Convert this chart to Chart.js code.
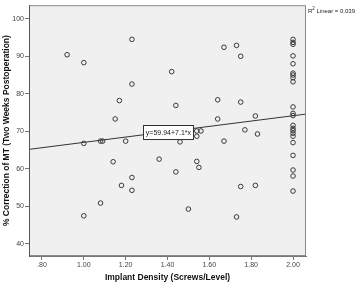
<!DOCTYPE html>
<html>
<head>
<meta charset="utf-8">
<script src="https://cdn.jsdelivr.net/npm/chart.js@4/dist/chart.umd.min.js"></script>
<style>
  html, body { margin: 0; padding: 0; background: #ffffff; }
  #wrap { width: 358px; height: 284px; position: relative; }
</style>
</head>
<body>
<div id="wrap"><canvas id="chart"></canvas></div>
<script>
// implant density (screws/level) for each patient
const density = [
  0.92, 1.00, 1.17, 1.15, 1.23, 1.42, 1.23, 1.44, 1.64, 1.64, 1.54, 1.56, 1.67, 1.73, 1.75,
  2.00, 2.00, 2.00, 2.00, 2.00, 2.00, 2.00, 2.00, 2.00,
  1.75, 1.82, 2.00, 2.00, 2.00, 1.77, 1.83, 1.67,
  2.00, 2.00, 2.00, 2.00, 2.00, 2.00,
  2.00, 2.00, 2.00, 2.00,
  1.75, 1.82, 1.73,
  1.20, 1.46, 1.54, 1.36, 1.54, 1.55, 1.44, 1.23, 1.18, 1.23, 1.50,
  1.00, 1.08, 1.09, 1.14, 1.08, 1.00
];

// % correction of MT two weeks postop, same order
const correction = [
  90.4, 88.3, 78.2, 73.3, 94.5, 85.9, 82.6, 76.9, 78.4, 73.3, 70.1, 70.1, 92.4, 92.9, 90.0,
  94.5, 93.7, 93.2, 90.1, 88.0, 85.5, 85.0, 84.3, 83.2,
  77.8, 74.1, 76.5, 74.8, 74.2, 70.4, 69.3, 67.4,
  71.6, 70.8, 70.2, 69.5, 68.7, 67.0,
  63.6, 59.7, 58.1, 54.1,
  55.3, 55.6, 47.2,
  67.4, 67.2, 68.7, 62.6, 62.0, 60.4, 59.2, 57.7, 55.6, 54.3, 49.3,
  66.8, 67.4, 67.4, 61.9, 50.9, 47.5
];

// fit line end points as read at the plot edges
const fitX = [0.738, 2.062];
const fitY = [65.2, 74.6];

const xTicks = [0.8, 1.0, 1.2, 1.4, 1.6, 1.8, 2.0];
const xTickLabels = ['.80', '1.00', '1.20', '1.40', '1.60', '1.80', '2.00'];
const yTicks = [40, 50, 60, 70, 80, 90, 100];

const equationText = 'y=59.94+7.1*x';
const r2Value = '0.039';

const FONT = "'Liberation Sans', Arial, sans-serif";

const scatterPoints = density.map((d, i) => ({ x: d, y: correction[i] }));
const fitPoints = fitX.map((x, i) => ({ x: x, y: fitY[i] }));

// plot background, frame, equation box and R2 label
const spssDecor = {
  id: 'spssDecor',
  beforeDatasetsDraw(chart) {
    const a = chart.chartArea;
    const ctx = chart.ctx;
    ctx.save();
    ctx.fillStyle = '#f0f0f0';
    ctx.fillRect(a.left, a.top, a.right - a.left, a.bottom - a.top);
    ctx.restore();
  },
  afterDatasetsDraw(chart) {
    const a = chart.chartArea;
    const ctx = chart.ctx;
    const xs = chart.scales.x, ys = chart.scales.y;
    ctx.save();
    // frame
    ctx.strokeStyle = '#8c8c8c';
    ctx.lineWidth = 1;
    ctx.strokeRect(a.left + 0.5, a.top + 0.5, a.right - a.left - 1, a.bottom - a.top - 1);
    ctx.strokeStyle = '#555';
    ctx.beginPath();
    ctx.moveTo(a.left + 0.5, a.top);
    ctx.lineTo(a.left + 0.5, a.bottom);
    ctx.stroke();

    // equation label
    ctx.font = '7px ' + FONT;
    const cx = xs.getPixelForValue(1.402);
    const cy = ys.getPixelForValue(69.9);
    const w = 50, h = 14;
    ctx.fillStyle = '#ffffff';
    ctx.fillRect(Math.round(cx - w / 2) + 0.5, Math.round(cy - h / 2) + 0.5, w, h);
    ctx.strokeStyle = '#333';
    ctx.strokeRect(Math.round(cx - w / 2) + 0.5, Math.round(cy - h / 2) + 0.5, w, h);
    ctx.fillStyle = '#222';
    ctx.textAlign = 'center';
    ctx.textBaseline = 'middle';
    ctx.fillText(equationText, cx + 0.5, cy + 1);

    // R2 label
    let tx = a.right + 2;
    const ty = a.top + 6;
    ctx.textAlign = 'left';
    ctx.font = '6px ' + FONT;
    ctx.fillText('R', tx, ty);
    tx += ctx.measureText('R').width;
    ctx.font = '4.5px ' + FONT;
    ctx.fillText('2', tx, ty - 2);
    tx += ctx.measureText('2').width;
    ctx.font = '6px ' + FONT;
    ctx.fillText(' Linear = ' + r2Value, tx, ty);
    ctx.restore();
  }
};

new Chart(document.getElementById('chart'), {
  type: 'scatter',
  plugins: [spssDecor],
  data: {
    datasets: [
      {
        type: 'line',
        data: fitPoints,
        borderColor: '#333',
        borderWidth: 1,
        pointRadius: 0,
        fill: false,
        order: 2
      },
      {
        data: scatterPoints,
        pointStyle: 'circle',
        pointRadius: 2.3,
        borderWidth: 1,
        borderColor: '#3a3a3a',
        backgroundColor: 'rgba(0,0,0,0)',
        order: 1
      }
    ]
  },
  options: {
    responsive: true,
    maintainAspectRatio: false,
    animation: false,
    layout: { padding: { left: 0, right: 52, top: 1, bottom: 0 } },
    plugins: {
      legend: { display: false },
      tooltip: { enabled: false }
    },
    scales: {
      x: {
        type: 'linear',
        min: 0.738,
        max: 2.062,
        afterBuildTicks: s => { s.ticks = xTicks.map(v => ({ value: v })); },
        afterFit: s => { s.height = 28; },
        grid: { drawOnChartArea: false, drawTicks: true, tickLength: 4, color: '#777' },
        border: { display: true, color: '#777' },
        ticks: {
          padding: 1,
          color: '#444',
          font: { family: FONT, size: 7 },
          maxRotation: 0,
          callback: (v, i) => xTickLabels[i]
        },
        title: {
          display: true,
          text: 'Implant Density (Screws/Level)',
          color: '#111',
          font: { family: FONT, size: 8.5, weight: 'bold' },
          padding: { top: 0, bottom: 1 }
        }
      },
      y: {
        type: 'linear',
        min: 36.8,
        max: 103.6,
        afterBuildTicks: s => { s.ticks = yTicks.map(v => ({ value: v })); },
        afterFit: s => { s.width = 29; },
        grid: { drawOnChartArea: false, drawTicks: true, tickLength: 4, color: '#777' },
        border: { display: true, color: '#555' },
        ticks: {
          padding: 1,
          color: '#444',
          font: { family: FONT, size: 7 },
          callback: v => String(v)
        },
        title: {
          display: true,
          text: '% Correction of MT (Two Weeks Postoperation)',
          color: '#111',
          font: { family: FONT, size: 8.5, weight: 'bold' },
          padding: { top: 2, bottom: 0 }
        }
      }
    }
  }
});
</script>
</body>
</html>
